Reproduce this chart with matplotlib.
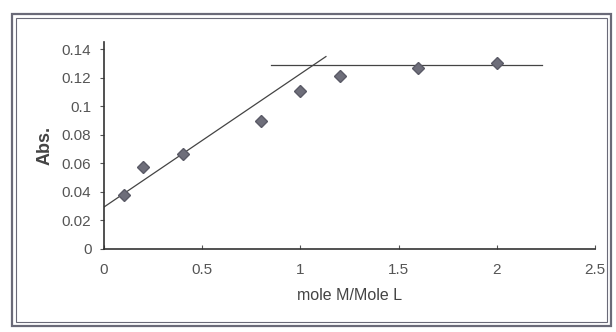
import matplotlib
matplotlib.use("Agg")
from matplotlib import pyplot as plt
from matplotlib.patches import Rectangle

plt.rcParams['font.family'] = ['Liberation Sans', 'DejaVu Sans']

# mole ratio data
ratio = [0.1, 0.2, 0.4, 0.8, 1.0, 1.2, 1.6, 2.0]
absorb = [0.0375, 0.0576, 0.0668, 0.0895, 0.111, 0.121, 0.127, 0.130]

# the two drawn lines (rising part and plateau)
rise_x = [0.0, 1.13]
rise_y = [0.0294, 0.1348]
flat_x = [0.85, 2.23]
flat_y = [0.1288, 0.1288]

xticks = [0, 0.5, 1, 1.5, 2, 2.5]
xlabels = ['0', '0.5', '1', '1.5', '2', '2.5']
yticks = [0, 0.02, 0.04, 0.06, 0.08, 0.1, 0.12, 0.14]
ylabels = ['0', '0.02', '0.04', '0.06', '0.08', '0.1', '0.12', '0.14']

fig = plt.figure(figsize=(6.16, 3.32), dpi=100)
W, H = 616, 332

# double frame around the chart
for x0, y0, x1, y1, lw in [(12, 14, 611, 326, 1.6), (16, 18, 607, 322, 0.8)]:
    fig.patches.append(Rectangle((x0 / W, 1 - y1 / H), (x1 - x0) / W, (y1 - y0) / H,
                                 transform=fig.transFigure, fill=False,
                                 edgecolor='#6a6a78', linewidth=lw))

ax = fig.add_axes([104 / W, 1 - 249 / H, (595 - 104) / W, (249 - 42) / H])

ax.plot(rise_x, rise_y, color='#444444', linewidth=0.9)
ax.plot(flat_x, flat_y, color='#444444', linewidth=0.9)
ax.plot(ratio, absorb, linestyle='none', marker='D', markersize=6,
        color='#6e6e7a', markeredgecolor='#5a5a66')

ax.set_xlim(0, 2.5)
ax.set_ylim(0, 0.145)
ax.set_xticks(xticks)
ax.set_xticklabels(xlabels)
ax.set_yticks(yticks)
ax.set_yticklabels(ylabels)

for s in ['top', 'right']:
    ax.spines[s].set_visible(False)
for s in ['left', 'bottom']:
    ax.spines[s].set_color('#333333')
    ax.spines[s].set_linewidth(1.2)

ax.tick_params(axis='x', direction='in', length=3, pad=10, labelsize=11,
               labelcolor='#555555', color='#555555')
ax.tick_params(axis='y', direction='out', length=3, pad=6, labelsize=11,
               labelcolor='#555555', color='#555555')

ax.set_xlabel('mole M/Mole L', fontsize=11.5, color='#444444', labelpad=8)
ax.set_ylabel('Abs.', fontsize=13, fontweight='bold', color='#444444', labelpad=6)

fig.savefig('out.png', dpi=100)
